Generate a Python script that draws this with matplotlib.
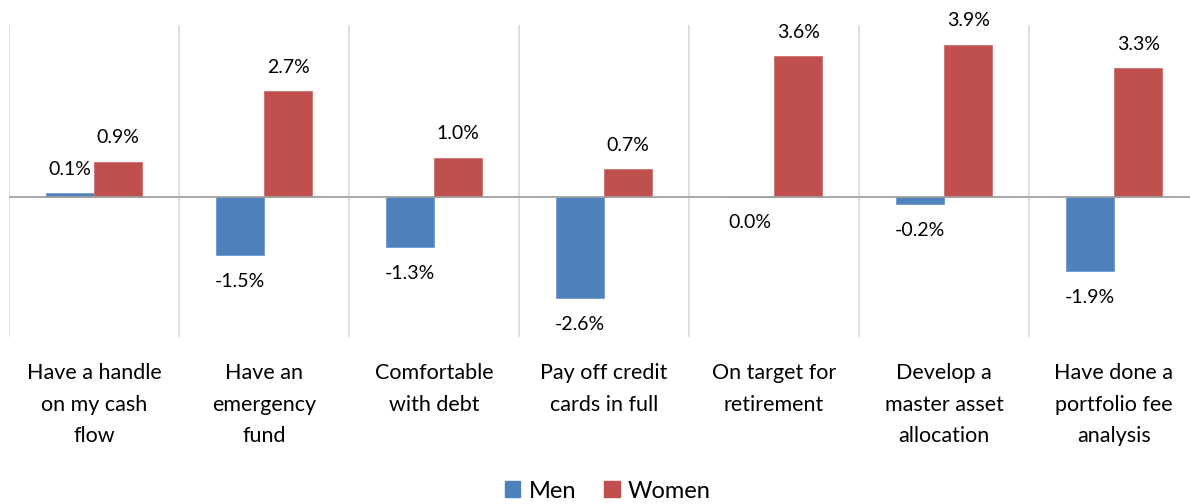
import numpy as np
import matplotlib.pyplot as plt
from matplotlib.patches import Patch

plt.rcParams['font.family'] = ['Lato', 'DejaVu Sans']

categories = ["Have a handle\non my cash\nflow", "Have an\nemergency\nfund",
              "Comfortable\nwith debt", "Pay off credit\ncards in full",
              "On target for\nretirement", "Develop a\nmaster asset\nallocation",
              "Have done a\nportfolio fee\nanalysis"]
men = [0.1, -1.5, -1.3, -2.6, 0.0, -0.2, -1.9]
women = [0.9, 2.7, 1.0, 0.7, 3.6, 3.9, 3.3]

blue = '#4F81BD'
red = '#C0504D'

W, H = 1190, 504
fig = plt.figure(figsize=(W / 100, H / 100), dpi=100)
# plot area runs past the right edge, like the original export
ax = fig.add_axes([9 / W, (H - 337) / H, 1190 / W, 312 / H])

x = np.arange(len(categories))
bw = 0.285
ax.bar(x - bw / 2, men, bw, color=blue, edgecolor='#6d9bd1', linewidth=0.6, zorder=3)
ax.bar(x + bw / 2, women, bw, color=red, edgecolor='#d0706d', linewidth=0.6, zorder=3)

ax.set_xlim(-0.5, len(categories) - 0.5)
ax.set_ylim(-3.6, 4.4)
ax.axhline(0, color='#a0a0a0', lw=1.3, zorder=4)

# category separators
ax.set_xticks(np.arange(len(categories) + 1) - 0.5, minor=True)
ax.grid(True, which='minor', axis='x', color='#d9d9d9', lw=1.2)
ax.set_xticks(x)
ax.set_xticklabels(categories, fontsize=15.5, linespacing=1.72)
ax.tick_params(axis='x', which='both', length=0, pad=19)
ax.set_yticks([])
for s in ax.spines.values():
    s.set_visible(False)

# value labels
for xi, m, w in zip(x, men, women):
    for xx, v in ((xi - bw / 2, m), (xi + bw / 2, w)):
        off = 17 if v > 0 else -19
        ax.annotate(f"{v:.1f}%", (xx, v), xytext=(0, off), textcoords='offset points',
                    ha='center', va='center', fontsize=14)

handles = [Patch(color=blue), Patch(color=red)]
fig.legend(handles, ['Men', 'Women'], loc='center', bbox_to_anchor=(608 / W, 1 - 491 / H),
           ncol=2, frameon=False, fontsize=17, handlelength=0.65, handleheight=0.65,
           handletextpad=0.35, columnspacing=1.2, borderpad=0)

fig.savefig('out.png', dpi=100)
